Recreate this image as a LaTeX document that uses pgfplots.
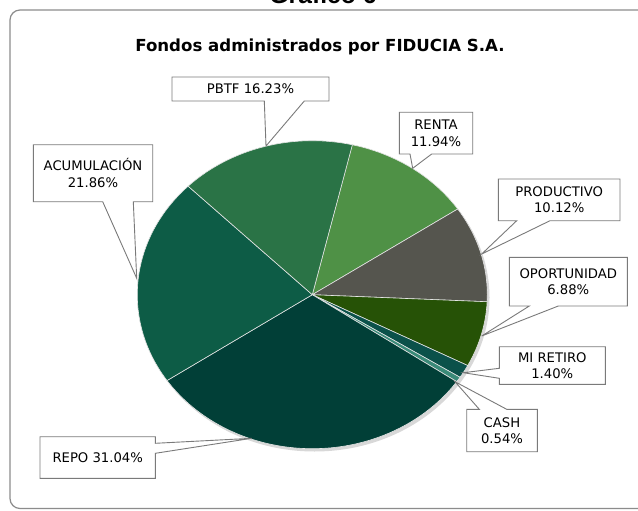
\documentclass[border=0pt]{standalone}
\usepackage{pgfplots}
\pgfplotsset{compat=1.18}
\usepackage{fontspec}
\setmainfont{DejaVu Sans}
\newfontfamily\gfont{Liberation Sans}
\definecolor{cRenta}{HTML}{4F9146}
\definecolor{cProd}{HTML}{55554E}
\definecolor{cOpor}{HTML}{265206}
\definecolor{cRetiro}{HTML}{0B514A}
\definecolor{cCash}{HTML}{3A8A78}
\definecolor{cRepo}{HTML}{013F37}
\definecolor{cAcum}{HTML}{0D5C46}
\definecolor{cPbtf}{HTML}{2A7346}
\definecolor{cBox}{HTML}{7A7A7A}
\def\cx{312.3}\def\cy{294.7}\def\rx{175}\def\ry{154}\def\startang{76.8}
\gdef\cum{0}
\newcommand\pieslice[2]{%
  \pgfmathsetmacro\aS{\startang-3.6*\cum}%
  \pgfmathsetmacro\aE{\aS-3.6*#2}%
  \edef\doplot{\noexpand\addplot[fill=#1, draw=white!80!gray, line width=0.6bp, domain=\aE:\aS, samples=80, variable=\noexpand\t] ({\cx+\rx*cos(\noexpand\t)},{\cy-\ry*sin(\noexpand\t)}) -- (axis cs:\cx,\cy) -- cycle;}%
  \doplot
  \pgfmathsetmacro\newcum{\cum+#2}\xdef\cum{\newcum}%
}
\tikzset{lab/.style={align=center, text=black, font=\fontsize{13.2bp}{16.5bp}\selectfont},
         callout/.style={draw=cBox, fill=white, line width=0.9bp}}
\begin{document}
\begin{tikzpicture}
\path[use as bounding box, clip] (0,0) rectangle (638bp,511bp);
\fill[white] (0,0) rectangle (638bp,511bp);
\begin{axis}[width=638bp, height=511bp, scale only axis, at={(0,0)}, anchor=south west,
  xmin=0, xmax=638, ymin=0, ymax=511, y dir=reverse, hide axis, clip=false]
\draw[black!45, line width=1.2bp, rounded corners=10bp] (axis cs:10,10) rectangle (axis cs:700,508.5);
\node[anchor=base, font=\gfont\bfseries\fontsize{24.7bp}{28bp}\selectfont] at (axis cs:323,3.5) {Gráfico 6};
\node[anchor=base, font=\bfseries\fontsize{16.6bp}{20bp}\selectfont] at (axis cs:320,51.7) {Fondos administrados por FIDUCIA S.A.};
\fill[black!30, opacity=0.5] (axis cs:314.5,297.5) ellipse [x radius=175bp, y radius=154bp];
% slices, clockwise from the start angle (percentages)
\pieslice{cRenta}{11.94}
\pieslice{cProd}{10.12}
\pieslice{cOpor}{6.88}
\pieslice{cRetiro}{1.40}
\pieslice{cCash}{0.54}
\pieslice{cRepo}{31.04}
\pieslice{cAcum}{21.86}
\pieslice{cPbtf}{16.23}
% callouts
\draw[callout] (axis cs:172,77) -- (axis cs:329,77) -- (axis cs:329,101) -- (axis cs:304.3,101) -- (axis cs:266,146) -- (axis cs:264.3,101) -- (axis cs:172,101) -- cycle;
\node[lab] at (axis cs:250.5,89) {PBTF 16.23\%};
\draw[callout] (axis cs:33.3,144.7) -- (axis cs:152.7,144.7) -- (axis cs:152.7,201.7) -- (axis cs:133.3,201.7) -- (axis cs:136.7,278.3) -- (axis cs:102.7,201.7) -- (axis cs:33.3,201.7) -- cycle;
\node[lab] at (axis cs:93,173.2) {ACUMULACIÓN\\21.86\%};
\draw[callout] (axis cs:399.3,112.3) -- (axis cs:472.7,112.3) -- (axis cs:472.7,154) -- (axis cs:431.7,154) -- (axis cs:412.7,168.3) -- (axis cs:410,154) -- (axis cs:399.3,154) -- cycle;
\node[lab] at (axis cs:436,133.2) {RENTA\\11.94\%};
\draw[callout] (axis cs:498.3,179) -- (axis cs:620,179) -- (axis cs:620,220.7) -- (axis cs:550,220.7) -- (axis cs:481.7,254) -- (axis cs:516.7,220.7) -- (axis cs:498.3,220.7) -- cycle;
\node[lab] at (axis cs:559.2,199.9) {PRODUCTIVO\\10.12\%};
\draw[callout] (axis cs:509.3,257.3) -- (axis cs:627.3,257.3) -- (axis cs:627.3,306) -- (axis cs:558.3,306) -- (axis cs:481.7,336) -- (axis cs:529.3,306) -- (axis cs:509.3,306) -- cycle;
\node[lab] at (axis cs:568.3,281.7) {OPORTUNIDAD\\6.88\%};
\draw[callout] (axis cs:499.3,346.7) -- (axis cs:605.3,346.7) -- (axis cs:605.3,384.3) -- (axis cs:499.3,384.3) -- (axis cs:499.3,378.3) -- (axis cs:463.3,372.7) -- (axis cs:499.3,368.3) -- cycle;
\node[lab] at (axis cs:552.3,365.5) {MI RETIRO\\1.40\%};
\draw[callout] (axis cs:466.7,409.3) -- (axis cs:479.3,409.3) -- (axis cs:455,381.7) -- (axis cs:506.7,409.3) -- (axis cs:537.3,409.3) -- (axis cs:537.3,451.7) -- (axis cs:466.7,451.7) -- cycle;
\node[lab] at (axis cs:502,430.5) {CASH\\0.54\%};
\draw[callout] (axis cs:40,436.7) -- (axis cs:155.3,436.7) -- (axis cs:155.3,443.3) -- (axis cs:251.7,438.3) -- (axis cs:155.3,453.3) -- (axis cs:155.3,478.3) -- (axis cs:40,478.3) -- cycle;
\node[lab] at (axis cs:97.7,457.5) {REPO 31.04\%};
\end{axis}
\end{tikzpicture}
\end{document}
